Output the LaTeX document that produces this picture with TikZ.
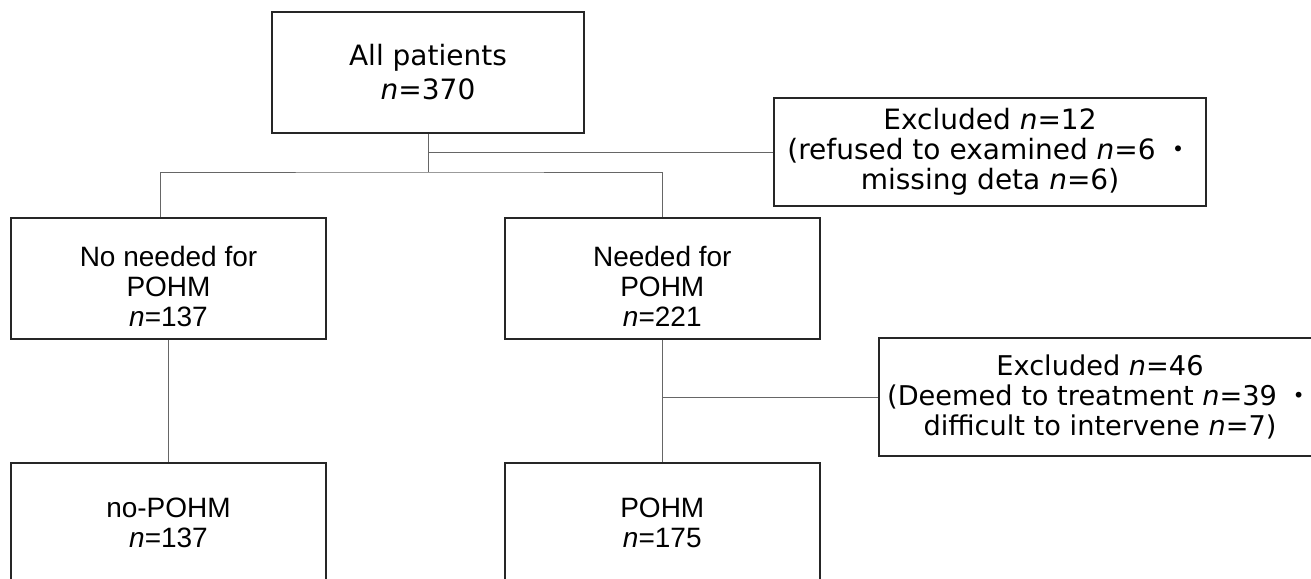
\documentclass[tikz,border=0pt]{standalone}
\usepackage{fontspec}
\setmainfont{Liberation Sans}
\newfontfamily\wideface{DejaVu Sans}
\newfontfamily\cjk{Noto Sans CJK JP}
\usetikzlibrary{positioning}
\newcommand{\nn}{\textit{n}}
\newcommand{\lowstrut}{\rule{0pt}{18pt}}

\begin{document}
\begin{tikzpicture}[
  x=0.5pt, y=-0.5pt,
  node distance=61pt and 88.5pt,
  box/.style={draw=black!85, line width=0.9pt, minimum width=157.5pt,
              minimum height=60.5pt, inner sep=0pt, align=center,
              font=\fontsize{14}{15}\selectfont},
  wbox/.style={box, font=\wideface\fontsize{14}{15}\selectfont},
  link/.style={draw=black!60, line width=0.5pt}
]
  \useasboundingbox (0,0) rectangle (1311,578);

  \node[wbox, minimum width=156pt, font=\wideface\fontsize{14}{17}\selectfont]
    (all) at (428,72.5) {All patients\\\nn=370};
  \node[box] (noneed) at (168.5,278.5) {\lowstrut No needed for\\POHM\\\nn=137};
  \node[box, right=of noneed] (need) {\lowstrut Needed for\\POHM\\\nn=221};
  \node[box, below=of noneed] (nopohm) {no-POHM\\\nn=137};
  \node[box, below=of need] (pohm) {POHM\\\nn=175};

  \node[wbox, minimum width=216pt, minimum height=54pt] (excla) at (990,152)
    {Excluded \nn=12\\(refused to examined \nn=6 {\cjk ・}\\missing deta \nn=6)};
  \node[wbox, minimum width=221pt, minimum height=59pt,
        font=\wideface\fontsize{13.6}{15}\selectfont] (exclb) at (1100,397)
    {Excluded \nn=46\\(Deemed to treatment \nn=39 {\cjk ・}\\difficult to intervene \nn=7)};

  % split below the first box, exclusions branch off to the right
  \coordinate (fork) at (428,172);
  \draw[link] (all.south) -- (fork);
  \draw[link] (all.south |- excla.west) -- (excla.west);
  \draw[link] ([xshift=-4pt]noneed.north) |- (fork) -| (need.north);

  \draw[link] (noneed.south) -- (nopohm.north);
  \draw[link] (need.south) -- (pohm.north);
  \draw[link] (need.south |- exclb.west) -- (exclb.west);
\end{tikzpicture}
\end{document}
